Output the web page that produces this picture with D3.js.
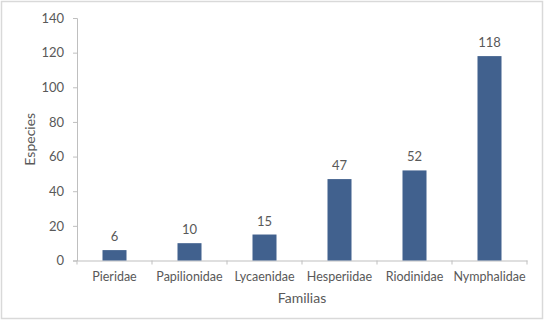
<!DOCTYPE html>
<html>
<head>
<meta charset="utf-8">
<script src="https://cdn.jsdelivr.net/npm/d3@7"></script>
<style>
  body { margin: 0; background: #fff; }
  svg text { font-family: Lato, "Open Sans", sans-serif; fill: #595959; }
</style>
</head>
<body>
<div id="chart"></div>
<script>
const familias = ["Pieridae", "Papilionidae", "Lycaenidae", "Hesperiidae", "Riodinidae", "Nymphalidae"];
const especies = [6, 10, 15, 47, 52, 118];
const yTicks = [0, 20, 40, 60, 80, 100, 120, 140];

const W = 545, H = 321;
const margin = { top: 18, right: 18, bottom: 60.5, left: 77 };
const width = W - margin.left - margin.right;
const height = H - margin.top - margin.bottom;

const svg = d3.select("#chart").append("svg")
    .attr("width", W)
    .attr("height", H);

// chart frame
svg.append("rect")
    .attr("x", 1.5).attr("y", 1.5)
    .attr("width", 541).attr("height", 317)
    .attr("fill", "#fff")
    .attr("stroke", "#d9d9d9")
    .attr("stroke-width", 1.5);

const g = svg.append("g")
    .attr("transform", `translate(${margin.left}, ${margin.top})`);

const x = d3.scaleBand()
    .domain(familias)
    .range([0, width])
    .paddingInner(0.68)
    .paddingOuter(0.34);

const y = d3.scaleLinear()
    .domain([0, 140])
    .range([height, 0]);

// y axis
const yAxis = g.append("g")
    .call(d3.axisLeft(y).tickValues(yTicks).tickSize(4).tickPadding(9));
yAxis.select(".domain").attr("stroke", "#bfbfbf");
yAxis.selectAll(".tick line").attr("stroke", "#bfbfbf");
yAxis.selectAll("text").attr("font-size", 13).attr("fill", "#595959");

// x axis with ticks at category boundaries
const xAxis = g.append("g")
    .attr("transform", `translate(0, ${height})`)
    .call(d3.axisBottom(x).tickSize(0).tickPadding(12));
xAxis.select(".domain").attr("stroke", "#bfbfbf");
xAxis.selectAll("text").attr("font-size", 12.5).attr("fill", "#595959");

const step = width / familias.length;
g.append("g").selectAll("line")
    .data(d3.range(familias.length + 1))
    .join("line")
    .attr("x1", i => i * step).attr("x2", i => i * step)
    .attr("y1", height).attr("y2", height + 4)
    .attr("stroke", "#bfbfbf");

// bars
g.selectAll(".bar")
    .data(familias)
    .join("rect")
    .attr("class", "bar")
    .attr("x", d => x(d))
    .attr("width", x.bandwidth())
    .attr("y", (d, i) => y(especies[i]))
    .attr("height", (d, i) => height - y(especies[i]))
    .attr("fill", "#41618e");

// value labels
g.selectAll(".lbl")
    .data(familias)
    .join("text")
    .attr("class", "lbl")
    .attr("x", d => x(d) + x.bandwidth() / 2)
    .attr("y", (d, i) => y(especies[i]) - 9)
    .attr("text-anchor", "middle")
    .attr("font-size", 13)
    .attr("fill", "#404040")
    .text((d, i) => especies[i]);

// axis titles
svg.append("text")
    .attr("transform", `translate(35, ${margin.top + height / 2}) rotate(-90)`)
    .attr("text-anchor", "middle")
    .attr("font-size", 14)
    .text("Especies");

svg.append("text")
    .attr("x", margin.left + width / 2)
    .attr("y", 303)
    .attr("text-anchor", "middle")
    .attr("font-size", 14)
    .text("Familias");
</script>
</body>
</html>
